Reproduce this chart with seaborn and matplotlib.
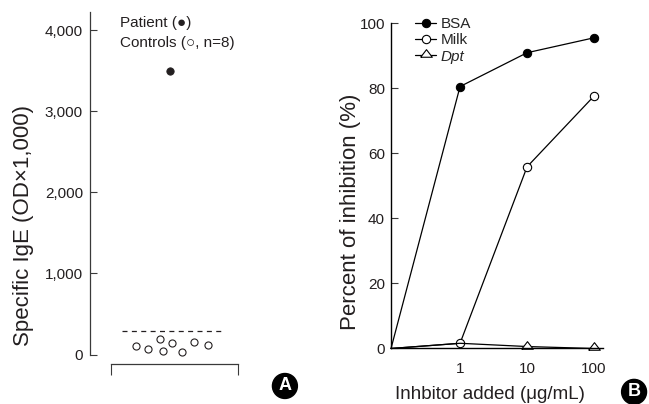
import matplotlib
matplotlib.use('Agg')
import matplotlib.pyplot as plt
import seaborn as sns

# panel A: specific IgE, patient vs controls
patient_x = [0.462]
patient_ige = [3500]
control_x = [0.199, 0.289, 0.386, 0.407, 0.478, 0.557, 0.655, 0.760]
control_ige = [108, 64, 191, 43, 145, 35, 158, 117]
cutoff_ige = 290
cutoff_span = [0.092, 0.888]
ige_ticks = [0, 1000, 2000, 3000, 4000]
ige_ticklabels = ['0', '1,000', '2,000', '3,000', '4,000']

# panel B: inhibition ELISA
inhibitor_conc = [0, 1, 10, 100]
bsa_inhib = [0, 80.6, 91.0, 95.6]
milk_inhib = [0, 1.6, 55.9, 77.7]
dpt_inhib = [0, 1.6, 0.6, 0.0]
inhib_ticks = [0, 20, 40, 60, 80, 100]
conc_ticks = [1, 10, 100]
conc_ticklabels = ['1', '10', '100']

sns.set_style('ticks')
regular = ['Liberation Sans', 'DejaVu Sans']
plt.rcParams['font.family'] = regular
ink = '#231f20'
spine_c = '#3a3a3a'

fig = plt.figure(figsize=(6.49, 4.04), dpi=100)
axA = fig.add_axes([0.1706, 0.1225, 0.1966, 0.847])
axB = fig.add_axes([0.6025, 0.1374, 0.3267, 0.8045])

# ---- panel A
sns.scatterplot(x=patient_x, y=patient_ige, ax=axA, color=ink, s=28,
                edgecolor=ink, linewidth=0.6, clip_on=False)
sns.scatterplot(x=control_x, y=control_ige, ax=axA, facecolor='white', s=26,
                edgecolor=ink, linewidth=0.8, clip_on=False)
axA.plot(cutoff_span, [cutoff_ige, cutoff_ige], color=ink, lw=0.9,
         linestyle=(0, (4, 3.5)))
axA.set_xlim(0, 1)
axA.set_ylim(0, 4220)
axA.set_yticks(ige_ticks)
axA.set_yticklabels(ige_ticklabels)
axA.set_xticks([0, 1])
axA.set_xticklabels([])
sns.despine(ax=axA, offset={'left': 15, 'bottom': 7})
for s in ['left', 'bottom']:
    axA.spines[s].set_color(spine_c)
    axA.spines[s].set_linewidth(0.9)
axA.tick_params(axis='y', direction='in', length=5, width=0.8, pad=5,
                labelsize=11, colors=spine_c, labelcolor=ink)
axA.tick_params(axis='x', direction='out', length=8, width=0.8, colors=spine_c)
axA.set_ylabel('Specific IgE (OD×1,000)', fontsize=16, color=ink)
axA.yaxis.set_label_coords(-0.68, 0.378)
axA.yaxis.label.set_va('center')
axA.text(0.073, 4088, 'Patient (●)', fontsize=11, color=ink, va='center')
axA.text(0.073, 3841, 'Controls (○, n=8)', fontsize=11, color=ink, va='center')

# ---- panel B
tri = [(-1, -0.3), (1, -0.3), (0, 1.0), (-1, -0.3)]
sns.lineplot(x=inhibitor_conc, y=bsa_inhib, ax=axB, color='black', lw=0.9,
             marker='o', markersize=6, markerfacecolor='black', markevery=[1, 2, 3],
             markeredgecolor='black', label='BSA', clip_on=False)
sns.lineplot(x=inhibitor_conc, y=milk_inhib, ax=axB, color='black', lw=0.9,
             marker='o', markersize=6, markerfacecolor='white', markevery=[1, 2, 3],
             markeredgecolor='black', markeredgewidth=0.8, label='Milk', clip_on=False)
sns.lineplot(x=inhibitor_conc, y=dpt_inhib, ax=axB, color='black', lw=0.9,
             marker=tri, markersize=8.4, markerfacecolor='white', markevery=[2, 3],
             markeredgecolor='black', markeredgewidth=0.8, label='Dpt', clip_on=False)
axB.set_xscale('symlog', linthresh=1, linscale=0.927)
axB.set_xlim(0, 136)
axB.set_ylim(0, 100)
axB.set_xticks(conc_ticks)
axB.set_xticklabels(conc_ticklabels)
axB.xaxis.set_minor_locator(matplotlib.ticker.NullLocator())
axB.set_yticks(inhib_ticks)
sns.despine(ax=axB)
for s in ['left', 'bottom']:
    axB.spines[s].set_color('black')
    axB.spines[s].set_linewidth(1.0)
axB.tick_params(axis='y', direction='in', length=5, width=0.8, pad=4.3,
                labelsize=11, colors=spine_c, labelcolor=ink)
axB.tick_params(axis='x', length=0, pad=10, labelsize=11, labelcolor=ink)
axB.set_ylabel('Percent of inhibition (%)', fontsize=16, color=ink)
axB.yaxis.set_label_coords(-0.193, 0.4215)
axB.yaxis.label.set_va('center')
axB.set_xlabel('Inhbitor added (μg/mL)', fontsize=13.5, color=ink)
axB.xaxis.set_label_coords(0.467, -0.143)
axB.xaxis.label.set_va('center')
leg = axB.legend(loc='upper left', bbox_to_anchor=(0.113, 1.02), frameon=False,
                 fontsize=11, handlelength=1.4, handletextpad=0.3,
                 labelspacing=0.15, borderpad=0, borderaxespad=0)
leg.get_texts()[2].set_fontstyle('italic')

# panel letters
for lbl, fx, fy in [('A', 0.439, 0.0446), ('B', 0.977, 0.03)]:
    fig.text(fx, fy, lbl, color='white', fontsize=13, fontweight='bold',
             ha='center', va='center',
             bbox=dict(boxstyle='circle,pad=0.22', fc='black', ec='black'))

fig.savefig('out.png', dpi=100)
